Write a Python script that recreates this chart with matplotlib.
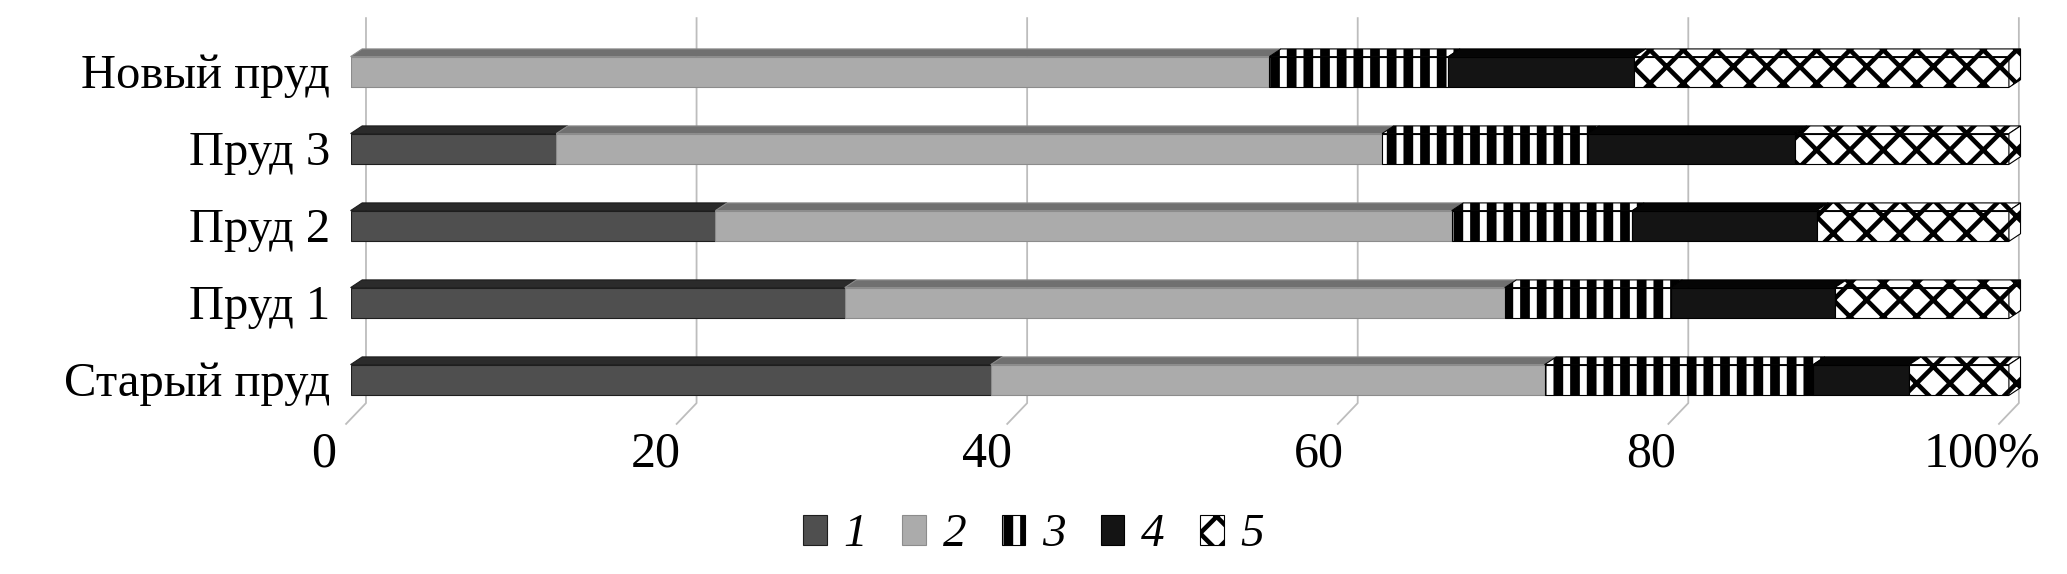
import numpy as np
import matplotlib.pyplot as plt
from matplotlib.patches import Polygon

plt.rcParams['font.family'] = ['Liberation Serif', 'DejaVu Serif']

# %% data (percent of total)
ponds = ["Старый пруд", "Пруд 1", "Пруд 2", "Пруд 3", "Новый пруд"]
group_1 = [38.6, 29.8, 22.0, 12.4, 0.0]
group_2 = [33.4, 39.8, 44.4, 49.8, 55.4]
group_3 = [16.2, 10.0, 10.9, 12.4, 10.8]
group_4 = [5.8, 9.9, 11.1, 12.5, 11.2]
group_5 = [6.0, 10.5, 11.6, 12.9, 22.6]
legend_labels = ["1", "2", "3", "4", "5"]
x_ticks = [0, 20, 40, 60, 80, 100]
x_tick_labels = ["0", "20", "40", "60", "80", "100%"]

# %% styles
front_colors = ["#4f4f4f", "#ababab", "white", "#141414", "white"]
top_colors = ["#2b2b2b", "#707070", "white", "#050505", "white"]
edge_colors = ["#1e1e1e", "#8c8c8c", "black", "black", "black"]
hatches = [None, None, "|", None, "x"]
hatch_lw = [1.0, 1.0, 7.0, 1.0, 3.3]

bar_h = 0.4
dx, dy = 0.7, 0.10      # depth of the 3d top face (data units)


def set_hlw(patch, lw):
    # per-artist hatch width (mpl >= 3.10)
    if hasattr(patch, "set_hatch_linewidth"):
        patch.set_hatch_linewidth(lw)


fig = plt.figure(figsize=(20.67, 5.74), dpi=100)
ax = fig.add_axes([0.1696, 0.2709, 0.8023, 0.6707])
ax.set_xlim(0, 100)
ax.set_ylim(-0.5, 4.5)
ax.set_axis_off()

# back wall grid + floor diagonals
for xt in x_ticks:
    xb = xt + 0.93 - 0.0033 * xt
    ax.plot([xb, xb, xb - 1.2], [4.70, -0.30, -0.57],
            color="#bdbdbd", lw=1.3, clip_on=False, zorder=0)

series = [group_1, group_2, group_3, group_4, group_5]
y = np.arange(len(ponds))
left = np.zeros(len(ponds))
handles = []

for i, vals in enumerate(series):
    bars = ax.barh(
        y, vals, height=bar_h, left=left,
        color=front_colors[i], edgecolor=edge_colors[i],
        hatch=hatches[i], linewidth=0.8,
        label=legend_labels[i], zorder=3
    )
    for b in bars:
        set_hlw(b, hatch_lw[i])
        x0, w = b.get_x(), b.get_width()
        if w <= 0:
            continue
        yt = b.get_y() + b.get_height()
        top = Polygon(
            [(x0, yt), (x0 + w, yt), (x0 + w + dx, yt + dy), (x0 + dx, yt + dy)],
            closed=True, facecolor=top_colors[i], edgecolor=edge_colors[i],
            hatch=hatches[i], linewidth=0.8, zorder=3, clip_on=False
        )
        set_hlw(top, hatch_lw[i])
        ax.add_patch(top)
        if i == len(series) - 1:
            yb = b.get_y()
            side = Polygon(
                [(x0 + w, yb), (x0 + w, yt), (x0 + w + dx, yt + dy), (x0 + w + dx, yb + dy)],
                closed=True, facecolor=top_colors[i], edgecolor=edge_colors[i],
                hatch=hatches[i], linewidth=0.8, zorder=3, clip_on=False
            )
            set_hlw(side, hatch_lw[i])
            ax.add_patch(side)
    handles.append(bars)
    left += np.array(vals)

# category labels
for yi, name in zip(y, ponds):
    ax.text(-1.24, yi - 0.214, name, ha="right", va="baseline",
            fontsize=35, clip_on=False)

# x labels on the floor edge
for xt, lbl in zip(x_ticks, x_tick_labels):
    ax.text(xt - 1.6, -1.12, lbl, ha="center", va="baseline",
            fontsize=36, clip_on=False)

leg = fig.legend(
    handles=handles, labels=legend_labels,
    loc="center", bbox_to_anchor=(0.5, 0.068), ncol=5,
    frameon=False, prop={'style': 'italic', 'size': 34},
    handlelength=0.5, handleheight=0.6,
    handletextpad=0.35, columnspacing=0.75
)
for h, lw in zip(leg.legend_handles, hatch_lw):
    set_hlw(h, lw)

fig.savefig("out.png", dpi=100)
